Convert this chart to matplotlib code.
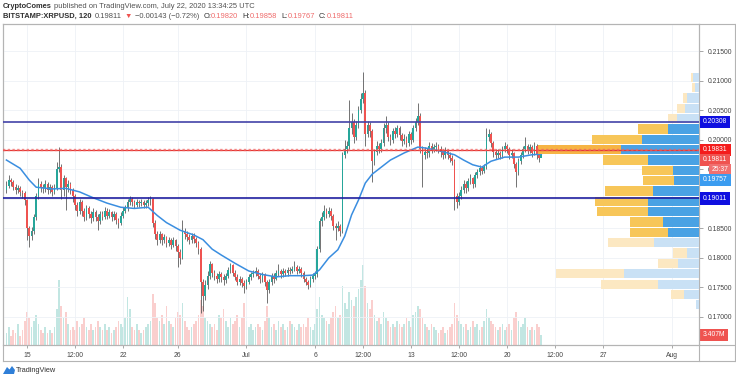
import matplotlib
matplotlib.use('Agg')
import matplotlib.pyplot as plt
import matplotlib.dates as mdates
import pandas as pd
from matplotlib.transforms import blended_transform_factory
from matplotlib.patches import Rectangle, Polygon
from matplotlib.lines import Line2D

plt.rcParams['font.family'] = ['Liberation Sans', 'DejaVu Sans']

# ---- data (resampled by eye to 4h candles) ----
start = '2020-06-13 12:00'
first_open = 0.1915
closes = [
    0.1922, 0.1932, 0.1928, 0.1920, 0.1915, 0.1918, 0.1912, 0.1910, 0.1898, 0.1850,
    0.1838, 0.1845, 0.1870, 0.1905, 0.1925, 0.1920, 0.1918, 0.1925, 0.1915, 0.1920,
    0.1912, 0.1918, 0.1950, 0.1955, 0.1915, 0.1935, 0.1920, 0.1925, 0.1915, 0.1905,
    0.1890, 0.1880, 0.1895, 0.1880, 0.1870, 0.1885, 0.1875, 0.1868, 0.1878, 0.1870,
    0.1862, 0.1875, 0.1870, 0.1880, 0.1872, 0.1878, 0.1870, 0.1875, 0.1865, 0.1860,
    0.1872, 0.1880, 0.1885, 0.1895, 0.1900, 0.1895, 0.1890, 0.1895, 0.1893, 0.1895,
    0.1890, 0.1893, 0.1898, 0.1900, 0.1860, 0.1840, 0.1830, 0.1840, 0.1830, 0.1835,
    0.1825, 0.1830, 0.1822, 0.1830, 0.1820, 0.1810, 0.1800, 0.1845, 0.1840, 0.1835,
    0.1830, 0.1838, 0.1832, 0.1825, 0.1815, 0.1760, 0.1735, 0.1755, 0.1770, 0.1790,
    0.1775, 0.1770, 0.1765, 0.1772, 0.1768, 0.1762, 0.1770, 0.1780, 0.1788, 0.1775,
    0.1768, 0.1760, 0.1765, 0.1758, 0.1752, 0.1760, 0.1768, 0.1772, 0.1775, 0.1778,
    0.1770, 0.1765, 0.1772, 0.1760, 0.1745, 0.1760, 0.1770, 0.1765, 0.1775, 0.1778,
    0.1772, 0.1778, 0.1775, 0.1780, 0.1778, 0.1782, 0.1785, 0.1778, 0.1782, 0.1775,
    0.1765, 0.1760, 0.1755, 0.1765, 0.1770, 0.1772, 0.1815, 0.1862, 0.1870, 0.1880,
    0.1875, 0.1880, 0.1872, 0.1855, 0.1850, 0.1855, 0.1845, 0.1975, 0.1985, 0.1990,
    0.2020, 0.2030, 0.2005, 0.2025, 0.2050, 0.2070, 0.2080, 0.2010, 0.2025, 0.2015,
    0.1965, 0.1980, 0.1990, 0.1985, 0.1995, 0.2020, 0.2025, 0.2005, 0.2000, 0.2015,
    0.2010, 0.2020, 0.2008, 0.1998, 0.2002, 0.1995, 0.2010, 0.2000, 0.2020, 0.2030,
    0.2040, 0.1985, 0.1975, 0.1980, 0.1978, 0.1990, 0.1985, 0.1988, 0.1990, 0.1985,
    0.1980, 0.1975, 0.1982, 0.1975, 0.1970, 0.1965, 0.1905, 0.1895, 0.1905, 0.1915,
    0.1925, 0.1918, 0.1930, 0.1935, 0.1925, 0.1940, 0.1945, 0.1952, 0.1948, 0.1955,
    0.2005, 0.2010, 0.1995, 0.1980, 0.1975, 0.1978, 0.1975, 0.1985, 0.1990, 0.1985,
    0.1975, 0.1978, 0.1960, 0.1945, 0.1965, 0.1975, 0.1985, 0.1990, 0.1982, 0.1988,
    0.1978, 0.1990, 0.1975, 0.1970, 0.1981,
]
highs = [
    0.1930, 0.1940, 0.1936, 0.1932, 0.1925, 0.1924, 0.1922, 0.1916, 0.1914, 0.1900,
    0.1855, 0.1852, 0.1875, 0.1910, 0.1935, 0.1930, 0.1926, 0.1932, 0.1928, 0.1926,
    0.1924, 0.1925, 0.1962, 0.1988, 0.1960, 0.1940, 0.1938, 0.1932, 0.1928, 0.1918,
    0.1908, 0.1895, 0.1900, 0.1898, 0.1885, 0.1890, 0.1888, 0.1880, 0.1884, 0.1882,
    0.1874, 0.1880, 0.1880, 0.1886, 0.1884, 0.1883, 0.1880, 0.1880, 0.1878, 0.1868,
    0.1878, 0.1886, 0.1890, 0.1900, 0.1905, 0.1903, 0.1898, 0.1900, 0.1898, 0.1900,
    0.1898, 0.1898, 0.1903, 0.1905, 0.1902, 0.1864, 0.1845, 0.1846, 0.1843, 0.1840,
    0.1838, 0.1836, 0.1834, 0.1835, 0.1833, 0.1824, 0.1815, 0.1865, 0.1850, 0.1846,
    0.1840, 0.1842, 0.1842, 0.1836, 0.1828, 0.1818, 0.1765, 0.1762, 0.1778, 0.1795,
    0.1792, 0.1780, 0.1774, 0.1778, 0.1776, 0.1772, 0.1775, 0.1785, 0.1792, 0.1790,
    0.1780, 0.1772, 0.1770, 0.1768, 0.1762, 0.1765, 0.1772, 0.1777, 0.1780, 0.1784,
    0.1782, 0.1774, 0.1777, 0.1775, 0.1763, 0.1765, 0.1775, 0.1774, 0.1780, 0.1790,
    0.1782, 0.1783, 0.1782, 0.1785, 0.1784, 0.1787, 0.1795, 0.1788, 0.1786, 0.1785,
    0.1778, 0.1768, 0.1763, 0.1770, 0.1774, 0.1778, 0.1820, 0.1868, 0.1878, 0.1890,
    0.1885, 0.1886, 0.1884, 0.1875, 0.1860, 0.1862, 0.1858, 0.1980, 0.2000, 0.1998,
    0.2068, 0.2045, 0.2035, 0.2032, 0.2058, 0.2080, 0.2115, 0.2085, 0.2032, 0.2030,
    0.2018, 0.1985, 0.1998, 0.1995, 0.2002, 0.2028, 0.2040, 0.2030, 0.2010, 0.2020,
    0.2022, 0.2026, 0.2024, 0.2012, 0.2010, 0.2006, 0.2015, 0.2014, 0.2025, 0.2038,
    0.2063, 0.2045, 0.1990, 0.1988, 0.1986, 0.1996, 0.1995, 0.1994, 0.1996, 0.1994,
    0.1990, 0.1985, 0.1988, 0.1985, 0.1980, 0.1975, 0.1968, 0.1910, 0.1912, 0.1922,
    0.1932, 0.1930, 0.1936, 0.1942, 0.1938, 0.1945, 0.1950, 0.1958, 0.1956, 0.1960,
    0.2020, 0.2018, 0.2014, 0.1998, 0.1985, 0.1984, 0.1982, 0.1990, 0.1996, 0.1994,
    0.1988, 0.1984, 0.1980, 0.1963, 0.1970, 0.1980, 0.1990, 0.2005, 0.1994, 0.1994,
    0.1992, 0.1996, 0.1994, 0.1980, 0.1986,
]
lows = [
    0.1910, 0.1918, 0.1922, 0.1915, 0.1908, 0.1910, 0.1905, 0.1902, 0.1890, 0.1830,
    0.1819, 0.1830, 0.1840, 0.1865, 0.1900, 0.1912, 0.1910, 0.1912, 0.1908, 0.1910,
    0.1905, 0.1908, 0.1915, 0.1945, 0.1900, 0.1905, 0.1881, 0.1912, 0.1908, 0.1895,
    0.1882, 0.1872, 0.1875, 0.1872, 0.1862, 0.1865, 0.1868, 0.1860, 0.1862, 0.1862,
    0.1848, 0.1858, 0.1864, 0.1866, 0.1866, 0.1868, 0.1862, 0.1865, 0.1858, 0.1850,
    0.1856, 0.1868, 0.1876, 0.1880, 0.1890, 0.1888, 0.1884, 0.1886, 0.1886, 0.1888,
    0.1884, 0.1885, 0.1888, 0.1890, 0.1852, 0.1832, 0.1822, 0.1825, 0.1822, 0.1825,
    0.1818, 0.1820, 0.1815, 0.1818, 0.1812, 0.1785, 0.1790, 0.1798, 0.1832, 0.1828,
    0.1824, 0.1826, 0.1826, 0.1818, 0.1806, 0.1706, 0.1710, 0.1728, 0.1748, 0.1765,
    0.1768, 0.1762, 0.1758, 0.1760, 0.1760, 0.1755, 0.1758, 0.1766, 0.1775, 0.1770,
    0.1762, 0.1754, 0.1755, 0.1750, 0.1741, 0.1748, 0.1756, 0.1763, 0.1767, 0.1770,
    0.1765, 0.1758, 0.1760, 0.1752, 0.1724, 0.1740, 0.1755, 0.1758, 0.1762, 0.1770,
    0.1766, 0.1768, 0.1770, 0.1770, 0.1772, 0.1774, 0.1778, 0.1772, 0.1774, 0.1768,
    0.1760, 0.1754, 0.1748, 0.1750, 0.1760, 0.1765, 0.1768, 0.1810, 0.1855, 0.1865,
    0.1868, 0.1870, 0.1865, 0.1848, 0.1831, 0.1845, 0.1838, 0.1842, 0.1970, 0.1978,
    0.1985, 0.2010, 0.1995, 0.2000, 0.2020, 0.2045, 0.2062, 0.1990, 0.2005, 0.2005,
    0.1929, 0.1958, 0.1975, 0.1978, 0.1980, 0.1990, 0.2012, 0.1998, 0.1992, 0.1995,
    0.2003, 0.2005, 0.2000, 0.1990, 0.1993, 0.1988, 0.1990, 0.1994, 0.1996, 0.2015,
    0.2025, 0.1978, 0.1920, 0.1968, 0.1970, 0.1972, 0.1978, 0.1980, 0.1982, 0.1978,
    0.1972, 0.1968, 0.1970, 0.1968, 0.1962, 0.1958, 0.1881, 0.1885, 0.1890, 0.1900,
    0.1910, 0.1910, 0.1914, 0.1925, 0.1918, 0.1920, 0.1935, 0.1940, 0.1942, 0.1944,
    0.1950, 0.1998, 0.1988, 0.1972, 0.1968, 0.1970, 0.1968, 0.1970, 0.1980, 0.1978,
    0.1968, 0.1970, 0.1952, 0.1920, 0.1940, 0.1960, 0.1970, 0.1980, 0.1976, 0.1978,
    0.1972, 0.1974, 0.1968, 0.1963, 0.1977,
]
# volume in millions XRP
volumes = [
    4, 6, 3, 5, 4, 7, 3, 5, 8, 11,
    9, 6, 8, 10, 7, 5, 4, 6, 4, 5,
    4, 6, 12, 22, 13, 9, 11, 7, 5, 6,
    5, 8, 6, 7, 9, 6, 5, 7, 5, 6,
    8, 6, 5, 7, 5, 6, 4, 5, 6, 8,
    7, 6, 9, 16, 12, 6, 5, 7, 5, 4,
    5, 6, 7, 8, 17, 14, 9, 8, 10, 7,
    13, 8, 7, 6, 9, 11, 10, 14, 8, 6,
    5, 6, 7, 8, 10, 15, 13, 9, 8, 7,
    6, 7, 5, 10, 9, 12, 8, 6, 9, 7,
    8, 10, 6, 9, 14, 8, 6, 7, 5, 6,
    7, 6, 5, 8, 13, 9, 6, 7, 5, 8,
    6, 7, 5, 6, 8, 7, 6, 5, 7, 6,
    7, 6, 9, 6, 5, 7, 12, 16, 10, 9,
    8, 7, 9, 11, 13, 9, 10, 20, 14, 12,
    18, 15, 13, 16, 19, 22, 27, 20, 14, 12,
    15, 10, 8, 9, 7, 11, 9, 8, 6, 7,
    6, 8, 7, 6, 7, 9, 8, 6, 10, 11,
    13, 12, 9, 7, 6, 5, 7, 6, 5, 4,
    5, 6, 4, 5, 6, 7, 14, 10, 8, 7,
    6, 7, 5, 6, 8, 6, 7, 5, 6, 8,
    12, 9, 8, 7, 6, 5, 6, 7, 5, 6,
    7, 5, 9, 11, 8, 6, 7, 9, 6, 5,
    6, 5, 7, 6, 3.4,
]

# moving average (blue line), sampled at candle index
ma_idx = [0, 6, 10, 13, 20, 26, 32, 38, 44, 50, 56, 62, 66, 70, 76, 82, 86, 90, 94, 100,
          106, 112, 118, 124, 130, 134, 137, 141, 145, 148, 151, 154, 157, 160, 164, 168,
          174, 180, 184, 190, 196, 200, 204, 208, 212, 218, 224, 230, 234]
ma_vals = [0.1966, 0.1952, 0.1932, 0.1920, 0.1917, 0.1918, 0.1912, 0.1902, 0.1893, 0.1886,
           0.1884, 0.1886, 0.1872, 0.1860, 0.1847, 0.1839, 0.1831, 0.1815, 0.1805, 0.1791,
           0.1778, 0.1772, 0.1768, 0.1770, 0.1770, 0.1771, 0.1780, 0.1800, 0.1814, 0.1837,
           0.1873, 0.1898, 0.1927, 0.1942, 0.1954, 0.1966, 0.1978, 0.1988, 0.1986, 0.1981,
           0.1975, 0.1966, 0.1958, 0.1954, 0.1964, 0.1971, 0.1971, 0.1975, 0.1976]

resistance = 0.20308
support = 0.19011
red_level = 0.19831
last_price = 0.19811
ma_last = 0.19757
last_volume = 3.407
countdown = '25:37'

# visible range volume profile, rows from top to bottom
profile_high = 0.2115
profile_low = 0.1712
profile_up = [6, 4, 12, 14, 22, 31, 57, 78, 51, 26, 25, 46, 51, 51, 36, 31, 45, 12, 21, 75, 41, 15, 3]
profile_down = [2, 3, 4, 8, 9, 30, 50, 83, 45, 31, 31, 48, 53, 51, 33, 38, 46, 14, 20, 68, 57, 13, 0]
value_area = (5, 15)
poc_row = 7

price_ticks = [0.215, 0.21, 0.205, 0.2, 0.195, 0.19, 0.185, 0.18, 0.175, 0.17]
# 0.19500 is mostly hidden under the countdown tag, 0.19000 under the support tag
price_labels = ['0.21500', '0.21000', '0.20500', '0.20000', '0.', '', '0.18500', '0.18000',
                '0.17500', '0.17000']
time_ticks = ['2020-06-15 00:00', '2020-06-18 12:00', '2020-06-22 00:00', '2020-06-26 00:00',
              '2020-07-01 00:00', '2020-07-06 00:00', '2020-07-09 12:00', '2020-07-13 00:00',
              '2020-07-16 12:00', '2020-07-20 00:00', '2020-07-23 12:00', '2020-07-27 00:00',
              '2020-08-01 00:00']
time_labels = ['15', '12:00', '22', '26', 'Jul', '6', '12:00', '13', '12:00', '20', '12:00', '27', 'Aug']

# ---- figure ----
W, H = 736, 381
fig = plt.figure(figsize=(W / 100, H / 100), dpi=100)
fig.patch.set_facecolor('white')


def fx(px):
    return px / W


def fy(py):
    return 1 - py / H


ax = fig.add_axes([fx(3), fy(345), fx(699) - fx(3), fy(24) - fy(345)])
axv = ax.twinx()
ax.set_zorder(2)
axv.set_zorder(1)
ax.patch.set_visible(False)

times = mdates.date2num(pd.date_range(start, periods=len(closes), freq='4h').to_pydatetime())
opens = [first_open] + closes[:-1]
green, red = '#26a69a', '#ef5350'
cols = [green if c >= o else red for o, c in zip(opens, closes)]

bw = 4 / 24 * 0.7
bottoms = [min(o, c) for o, c in zip(opens, closes)]
heights = [max(abs(c - o), 0.00008) for o, c in zip(opens, closes)]
ax.vlines(times, lows, highs, colors='#5c5c5c', lw=0.6, zorder=3)
ax.bar(times, heights, bottom=bottoms, width=bw, color=cols, lw=0, zorder=4)

# moving average
ax.plot([times[i] for i in ma_idx], ma_vals, color='#3a8ee0', lw=1.1, zorder=5)

# volume pane
axv.bar(times, volumes, width=4 / 24 * 0.8, color=cols, alpha=0.28, lw=0)
axv.set_ylim(0, 108)
axv.axis('off')

# volume profile (right side, axes-fraction width)
tr = blended_transform_factory(ax.transAxes, ax.transData)
row_h = (profile_high - profile_low) / len(profile_up)
scale = 0.232 / max(u + d for u, d in zip(profile_up, profile_down))
for r, (u, d) in enumerate(zip(profile_up, profile_down)):
    top = profile_high - r * row_h
    inside = value_area[0] <= r <= value_area[1]
    cu = '#4aa2e4' if inside else '#c9e1f5'
    cd = '#f7c659' if inside else '#fce8c2'
    if r == poc_row:
        cd = '#f6b445'
    wu, wd = u * scale, d * scale
    ax.add_patch(Rectangle((1 - wu, top - row_h * 0.94), wu, row_h * 0.88,
                           transform=tr, fc=cu, ec='none', zorder=6))
    ax.add_patch(Rectangle((1 - wu - wd, top - row_h * 0.94), wd, row_h * 0.88,
                           transform=tr, fc=cd, ec='none', zorder=6))

# horizontal levels
ax.axhline(resistance, color='#4343a8', lw=1.2, zorder=7)
ax.axhline(support, color='#1f1fa0', lw=1.2, zorder=7)
ax.axhline(red_level, color='#e53935', lw=0.9, zorder=7)
ax.axhline(red_level, color='#f06060', lw=1.7, ls=(0, (1, 1)), alpha=0.7, zorder=7)

# axes look
ax.set_xlim(mdates.date2num(pd.Timestamp('2020-06-13 06:00')),
            mdates.date2num(pd.Timestamp('2020-08-03 00:00')))
ax.set_ylim(0.16525, 0.21966)
ax.yaxis.tick_right()
ax.set_yticks(price_ticks)
ax.set_yticklabels(price_labels)
ax.set_xticks(mdates.date2num(pd.to_datetime(time_ticks, format='%Y-%m-%d %H:%M')))
ax.set_xticklabels(time_labels)
ax.tick_params(axis='both', labelsize=4.9, labelcolor='#444444', color='#9a9a9a', width=0.6)
ax.tick_params(axis='y', length=3, pad=3)
ax.tick_params(axis='x', length=2, pad=3)
ax.grid(True, color='#eef1f6', lw=0.6, zorder=0)
for s in ax.spines.values():
    s.set_color('#b4b4b4')
    s.set_linewidth(0.8)


def price_tag(axes, y, text, fc, dy=0, dx=3):
    t = blended_transform_factory(axes.transAxes, axes.transData)
    axes.annotate(text, xy=(1, y), xycoords=t, xytext=(dx, dy), textcoords='offset points',
                  ha='left', va='center', fontsize=4.9, color='white',
                  bbox=dict(boxstyle='square,pad=0.4', fc=fc, ec='none'),
                  annotation_clip=False, zorder=30)


price_tag(ax, resistance, f'{resistance:.5f}', '#0f0fe0')
price_tag(ax, support, f'{support:.5f}', '#0f0fe0')
price_tag(ax, red_level, f'{red_level:.5f}', '#f41c1c')
price_tag(ax, red_level, f'{last_price:.5f}', '#ef5350', dy=-7.2)
price_tag(ax, red_level, countdown, '#f07070', dy=-14.4, dx=9)
price_tag(ax, red_level, f'{ma_last:.5f}', '#3b9cf0', dy=-21.6)
price_tag(axv, last_volume, f'{last_volume:.3f}M', '#ef5350')

# frame lines outside the axes
frame = dict(color='#b4b4b4', lw=0.8, transform=fig.transFigure)
fig.add_artist(Line2D([fx(3), fx(735)], [fy(24), fy(24)], **frame))
fig.add_artist(Line2D([fx(3), fx(735)], [fy(361), fy(361)], **frame))
fig.add_artist(Line2D([fx(3), fx(3)], [fy(24), fy(361)], **frame))
fig.add_artist(Line2D([fx(699), fx(699)], [fy(24), fy(361)], **frame))
fig.add_artist(Line2D([fx(735), fx(735)], [fy(24), fy(361)], **frame))
fig.add_artist(Line2D([fx(3), fx(735)], [fy(345), fy(345)], **frame))

# header
renderer = fig.canvas.get_renderer()


def text_run(x_px, y_px, runs, size):
    for text, color, weight, gap in runs:
        t = fig.text(fx(x_px), fy(y_px), text, color=color, fontsize=size,
                     fontweight=weight, va='center', ha='left')
        x_px += t.get_window_extent(renderer=renderer).width + gap


dark, grey, pink = '#2f2f2f', '#505050', '#ef6b6b'
text_run(3, 6, [('CryptoComes', dark, 'bold', 2),
                ('published on TradingView.com, July 22, 2020 13:34:25 UTC', grey, 'normal', 0)], 5.4)
text_run(3, 16, [('BITSTAMP:XRPUSD, 120', dark, 'bold', 3),
                 ('0.19811', grey, 'normal', 3),
                 ('\u25bc', red, 'normal', 3),
                 ('\u22120.00143 (\u22120.72%)', grey, 'normal', 4),
                 ('O:', dark, 'normal', 0), ('0.19820', pink, 'normal', 4),
                 ('H:', dark, 'normal', 0), ('0.19858', pink, 'normal', 4),
                 ('L:', dark, 'normal', 0), ('0.19767', pink, 'normal', 4),
                 ('C:', dark, 'normal', 0), ('0.19811', pink, 'normal', 0)], 5.4)

# TradingView logo
fig.add_artist(Polygon([(fx(3), fy(374)), (fx(7), fy(367)), (fx(9.5), fy(369.5)),
                        (fx(12), fy(366)), (fx(15), fy(370)), (fx(14), fy(374))],
                       closed=True, fc='#2f7fd8', ec='none', transform=fig.transFigure))
fig.text(fx(16), fy(370.5), 'TradingView', fontsize=5.3, color='#333333', va='center', ha='left')

fig.savefig('out.png', dpi=100)
